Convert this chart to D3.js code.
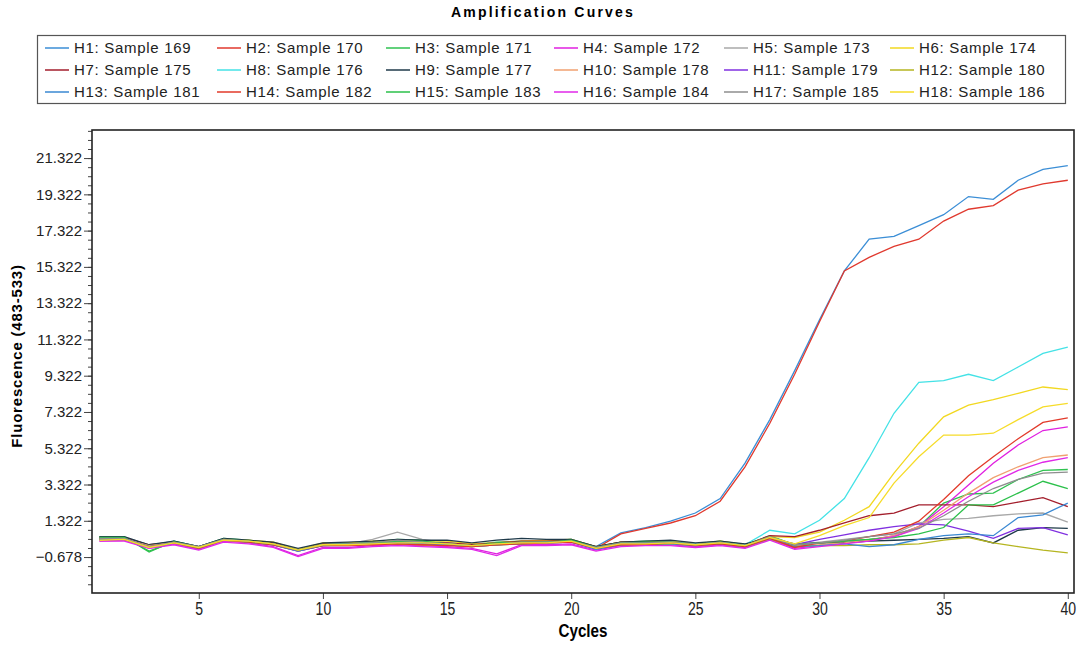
<!DOCTYPE html>
<html>
<head>
<meta charset="utf-8">
<script src="https://cdn.jsdelivr.net/npm/d3@7"></script>
<style>
  body { margin: 0; background: #fff; }
  svg { display: block; }
</style>
</head>
<body>
<div id="chart"></div>
<script>
// Amplification curves data (fluorescence per cycle)
var cycles = [1,2,3,4,5,6,7,8,9,10,11,12,13,14,15,16,17,18,19,20,21,22,23,24,25,26,27,28,29,30,31,32,33,34,35,36,37,38,39,40];

var seriesNames = ["H1: Sample 169","H2: Sample 170","H3: Sample 171","H4: Sample 172","H5: Sample 173","H6: Sample 174",
                   "H7: Sample 175","H8: Sample 176","H9: Sample 177","H10: Sample 178","H11: Sample 179","H12: Sample 180",
                   "H13: Sample 181","H14: Sample 182","H15: Sample 183","H16: Sample 184","H17: Sample 185","H18: Sample 186"];

var seriesColors = ["#3b8ed6","#e0392e","#2fc250","#e020e0","#a8a8a8","#f2d820",
                    "#a31e2c","#44e2e6","#1f3a4a","#f0a070","#8030e0","#b5b520",
                    "#3a88d2","#e23a2a","#2bc04a","#e028e8","#8e8e8e","#f6dc2a"];

var h1  = [0.4,0.35,-0.05,0.2,-0.1,0.3,0.2,0.1,-0.3,0.05,0.05,0.15,0.2,0.15,0.1,0.0,0.1,0.15,0.2,0.3,-0.1,0.65,0.95,1.3,1.75,2.55,4.5,6.9,9.6,12.4,15.1,16.85,17.0,17.6,18.2,19.2,19.05,20.1,20.7,20.9];
var h2  = [0.3,0.3,-0.1,0.1,-0.2,0.25,0.15,0.0,-0.35,-0.05,0.0,0.05,0.15,0.1,0.0,-0.05,0.05,0.1,0.15,0.2,-0.2,0.6,0.9,1.2,1.6,2.4,4.3,6.7,9.4,12.3,15.1,15.85,16.45,16.85,17.85,18.5,18.7,19.55,19.9,20.1];
var h3  = [0.45,0.45,-0.4,0.2,-0.1,0.35,0.25,0.1,-0.3,0.05,0.1,0.15,0.3,0.25,0.1,0.0,0.15,0.2,0.2,0.3,-0.15,0.15,0.2,0.2,0.05,0.2,0.0,0.5,0.0,0.1,0.2,0.3,0.45,1.0,2.3,2.8,2.85,3.6,4.1,4.15];
var h4  = [0.2,0.25,-0.2,0.05,-0.25,0.2,0.1,-0.1,-0.6,-0.15,-0.15,-0.05,0.0,-0.05,-0.1,-0.2,-0.5,0.0,0.0,0.05,-0.3,-0.05,0.0,0.0,-0.1,0.0,-0.15,0.3,-0.2,-0.05,0.1,0.25,0.5,1.0,2.1,3.3,4.5,5.5,6.3,6.5];
var h5  = [0.35,0.4,-0.1,0.15,-0.1,0.3,0.2,0.05,-0.3,0.05,0.05,0.3,0.7,0.3,0.1,0.0,0.1,0.15,0.15,0.25,-0.15,0.1,0.15,0.15,0.05,0.15,0.0,0.45,0.0,0.15,0.3,0.45,0.6,1.2,1.4,1.45,1.6,1.7,1.75,1.25];
var h6  = [0.3,0.35,-0.1,0.15,-0.15,0.3,0.25,0.15,-0.25,0.1,0.1,0.2,0.25,0.2,0.2,0.05,0.1,0.2,0.25,0.3,-0.1,0.15,0.15,0.2,0.05,0.2,0.0,0.45,0.4,0.7,1.35,2.1,3.95,5.6,7.05,7.7,8.0,8.35,8.7,8.55];
var h7  = [0.4,0.4,0.0,0.15,-0.1,0.3,0.2,0.1,-0.3,0.05,0.05,0.1,0.15,0.1,0.1,0.0,0.1,0.2,0.2,0.25,-0.1,0.15,0.15,0.15,0.05,0.15,0.0,0.5,0.45,0.8,1.2,1.6,1.75,2.2,2.2,2.2,2.1,2.35,2.6,2.1];
var h8  = [0.35,0.35,-0.1,0.15,-0.15,0.3,0.2,0.05,-0.3,0.0,0.05,0.1,0.15,0.1,0.05,-0.05,0.05,0.1,0.15,0.2,-0.2,0.1,0.1,0.15,0.05,0.15,0.0,0.8,0.6,1.35,2.55,4.8,7.25,8.95,9.05,9.4,9.05,9.8,10.55,10.9];
var h9  = [0.45,0.45,0.0,0.2,-0.1,0.35,0.25,0.15,-0.2,0.1,0.15,0.2,0.3,0.25,0.25,0.1,0.25,0.35,0.3,0.3,-0.1,0.15,0.2,0.25,0.1,0.2,0.05,0.35,0.05,0.1,0.1,0.2,0.25,0.3,0.35,0.45,0.1,0.8,0.95,0.9];
var h10 = [0.3,0.3,-0.05,0.1,-0.2,0.25,0.15,0.0,-0.3,0.0,0.0,0.1,0.1,0.05,0.0,-0.05,0.0,0.1,0.1,0.2,-0.2,0.05,0.05,0.1,0.0,0.1,-0.05,0.4,-0.05,0.0,0.1,0.25,0.5,1.0,1.9,2.85,3.7,4.3,4.8,4.95];
var h11 = [0.25,0.3,-0.1,0.1,-0.15,0.3,0.15,0.0,-0.35,-0.05,0.0,0.05,0.1,0.05,0.0,-0.1,0.0,0.1,0.1,0.15,-0.2,0.05,0.1,0.1,0.0,0.1,-0.05,0.4,0.0,0.3,0.55,0.8,1.0,1.15,1.1,0.75,0.35,0.9,0.95,0.55];
var h12 = [0.3,0.3,-0.1,0.1,-0.15,0.25,0.15,0.05,-0.3,0.0,0.0,0.05,0.05,0.0,0.0,-0.1,0.0,0.05,0.1,0.15,-0.2,0.0,0.0,0.05,-0.05,0.05,-0.1,0.3,-0.1,-0.05,-0.05,0.0,0.0,0.05,0.25,0.4,0.1,-0.1,-0.3,-0.45];
var h13 = [0.3,0.3,-0.15,0.1,-0.2,0.25,0.15,0.0,-0.35,-0.05,-0.05,0.05,0.1,0.05,0.0,-0.1,0.0,0.05,0.1,0.15,-0.25,0.0,0.05,0.05,-0.05,0.05,-0.1,0.35,-0.1,-0.05,0.05,-0.1,0.0,0.3,0.5,0.6,0.5,1.5,1.65,2.3];
var h14 = [0.35,0.3,-0.1,0.1,-0.2,0.25,0.15,0.0,-0.3,-0.05,-0.05,0.0,0.05,0.0,-0.05,-0.1,0.0,0.05,0.1,0.15,-0.2,0.0,0.0,0.1,-0.05,0.05,-0.1,0.35,-0.15,0.1,0.2,0.45,0.7,1.3,2.5,3.8,4.85,5.85,6.75,7.0];
var h15 = [0.4,0.4,-0.35,0.15,-0.15,0.3,0.2,0.05,-0.3,0.0,0.05,0.1,0.2,0.2,0.05,-0.05,0.1,0.15,0.15,0.25,-0.15,0.1,0.15,0.15,0.0,0.15,-0.05,0.45,0.0,0.1,0.2,0.3,0.4,0.6,0.95,2.2,2.2,2.85,3.5,3.1];
var h16 = [0.2,0.2,-0.2,0.0,-0.3,0.15,0.05,-0.15,-0.65,-0.2,-0.2,-0.1,-0.05,-0.1,-0.15,-0.25,-0.6,-0.05,-0.05,0.0,-0.35,-0.1,-0.05,-0.05,-0.15,-0.05,-0.2,0.25,-0.25,-0.1,0.05,0.2,0.45,0.9,1.75,2.65,3.45,4.1,4.55,4.8];
var h17 = [0.35,0.35,-0.1,0.15,-0.1,0.3,0.2,0.05,-0.3,0.0,0.05,0.1,0.25,0.15,0.05,-0.05,0.05,0.15,0.15,0.2,-0.15,0.1,0.1,0.15,0.0,0.15,-0.05,0.45,0.0,0.1,0.25,0.45,0.6,0.9,1.6,2.4,3.1,3.6,3.95,4.0];
var h18 = [0.25,0.3,-0.15,0.1,-0.15,0.25,0.2,0.05,-0.3,0.0,0.0,0.05,0.1,0.1,0.05,-0.05,0.05,0.1,0.1,0.2,-0.2,0.05,0.05,0.1,0.0,0.1,-0.05,0.4,0.05,0.5,1.05,1.5,3.4,4.85,6.05,6.05,6.15,6.9,7.6,7.8];

var seriesValues = [h1,h2,h3,h4,h5,h6,h7,h8,h9,h10,h11,h12,h13,h14,h15,h16,h17,h18];

var xTicks = [5,10,15,20,25,30,35,40];
var yTicks = [-0.678,1.322,3.322,5.322,7.322,9.322,11.322,13.322,15.322,17.322,19.322,21.322];

// Dimensions: plot frame from (92,130) to (1074,593)
var W = 1086, H = 646;
var margin = {top: 130, right: 12, bottom: 53, left: 92},
    width = W - margin.left - margin.right,
    height = H - margin.top - margin.bottom;

var x = d3.scaleLinear().domain([0.7, 40.25]).range([0, width]);
var y = d3.scaleLinear().domain([-2.66, 22.87]).range([height, 0]);

var svg = d3.select("#chart").append("svg")
    .attr("width", W)
    .attr("height", H);

// Title
svg.append("text")
    .attr("x", 543).attr("y", 17)
    .attr("text-anchor", "middle")
    .style("font-family", "'Liberation Sans', Arial, sans-serif")
    .style("font-weight", "bold")
    .style("font-size", "14px")
    .style("letter-spacing", "2.2px")
    .text("Amplification Curves");

// Legend
var legendCols = [45, 217, 386, 554, 724, 890];
var legendRows = [48, 70, 92];
svg.append("rect")
    .attr("x", 37.5).attr("y", 35.5)
    .attr("width", 1028).attr("height", 68)
    .attr("fill", "#fff")
    .attr("stroke", "#555")
    .attr("stroke-width", 1.2);

var leg = svg.selectAll(".leg")
    .data(seriesNames)
  .enter().append("g")
    .attr("class", "leg")
    .attr("transform", function(d, i) {
      return "translate(" + legendCols[i % 6] + "," + legendRows[Math.floor(i / 6)] + ")";
    });
leg.append("line")
    .attr("x1", 0).attr("x2", 24)
    .attr("y1", 0).attr("y2", 0)
    .attr("stroke", function(d, i) { return seriesColors[i]; })
    .attr("stroke-width", 1.5);
leg.append("text")
    .attr("x", 29).attr("y", 5)
    .style("font-family", "'Liberation Sans', Arial, sans-serif")
    .style("font-size", "15px")
    .style("letter-spacing", "0.7px")
    .attr("fill", "#222")
    .text(function(d) { return d; });

var g = svg.append("g")
    .attr("transform", "translate(" + margin.left + "," + margin.top + ")");

g.append("clipPath").attr("id", "clip")
  .append("rect").attr("width", width).attr("height", height);

// Y axis with minor ticks
var yMinor = d3.range(-2.178, 22.87, 0.5);
g.append("g")
    .attr("class", "yminor")
    .call(d3.axisLeft(y).tickValues(yMinor).tickSize(4).tickFormat(""))
    .call(function(s) { s.select(".domain").remove(); s.selectAll("line").attr("stroke", "#444"); });

g.append("g")
    .attr("class", "yaxis")
    .call(d3.axisLeft(y).tickValues(yTicks).tickSize(8).tickPadding(2).tickFormat(d3.format(".3f")))
    .call(function(s) {
      s.select(".domain").remove();
      s.selectAll("line").attr("stroke", "#444");
      s.selectAll("text")
        .style("font-family", "'Liberation Sans', Arial, sans-serif")
        .style("font-size", "15px")
        .attr("fill", "#222");
    });

// X axis (narrow digits)
g.append("g")
    .attr("class", "xaxis")
    .attr("transform", "translate(0," + height + ")")
    .call(d3.axisBottom(x).tickValues(xTicks).tickSize(6).tickPadding(3))
    .call(function(s) {
      s.select(".domain").remove();
      s.selectAll("line").attr("stroke", "#444");
      s.selectAll("text")
        .style("font-family", "'Liberation Sans', Arial, sans-serif")
        .style("font-size", "18px")
        .attr("transform", "scale(0.78,1)")
        .attr("fill", "#222");
    });

// Lines
var line = d3.line()
    .x(function(d, i) { return x(cycles[i]); })
    .y(function(d) { return y(d); });

g.append("g")
    .attr("clip-path", "url(#clip)")
  .selectAll(".curve")
    .data(seriesValues)
  .enter().append("path")
    .attr("class", "curve")
    .attr("fill", "none")
    .attr("stroke", function(d, i) { return seriesColors[i]; })
    .attr("stroke-width", 1.3)
    .attr("d", line);

// Plot frame
g.append("rect")
    .attr("width", width).attr("height", height)
    .attr("fill", "none")
    .attr("stroke", "#222")
    .attr("stroke-width", 1.6);

// Axis labels
svg.append("g")
    .attr("transform", "translate(583,637) scale(0.8,1)")
  .append("text")
    .attr("text-anchor", "middle")
    .style("font-family", "'Liberation Sans', Arial, sans-serif")
    .style("font-weight", "bold")
    .style("font-size", "19px")
    .text("Cycles");

svg.append("text")
    .attr("transform", "translate(22,356) rotate(-90)")
    .attr("text-anchor", "middle")
    .style("font-family", "'Liberation Sans', Arial, sans-serif")
    .style("font-weight", "bold")
    .style("font-size", "15px")
    .style("letter-spacing", "0.8px")
    .text("Fluorescence (483-533)");
</script>
</body>
</html>
